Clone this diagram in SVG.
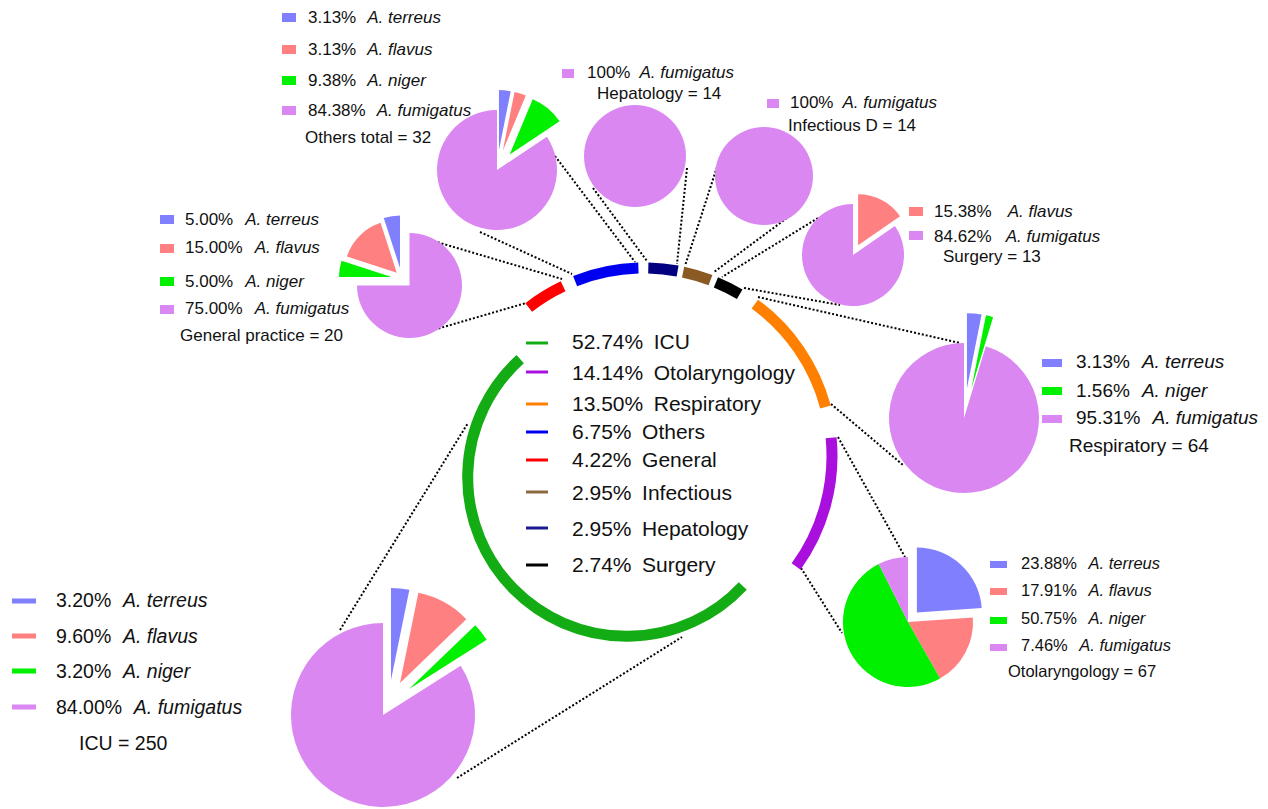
<svg xmlns="http://www.w3.org/2000/svg" width="1268" height="809" viewBox="0 0 1268 809">
<style>
text{font-family:"Liberation Sans",Arial,sans-serif;fill:#111}
.i{font-style:italic}
.f17{font-size:17px}
.f165{font-size:16.5px}
.f19{font-size:19px}
.f195{font-size:19.5px}
.f21{font-size:21px}
.ter{fill:#8080ff}
.fla{fill:#ff8080}
.nig{fill:#00f000}
.fum{fill:#da87f2}
.arc{fill:none;stroke-width:11}
.con{fill:none;stroke:#000;stroke-width:2;stroke-dasharray:2 2}
.lg{stroke-width:3}
</style>
<rect width="1268" height="809" fill="#fff"/>

<g id="connectors">
  <line class="con" x1="430" y1="240" x2="562" y2="279"/>
  <line class="con" x1="423" y1="333" x2="526" y2="303"/>
  <line class="con" x1="480" y1="232" x2="572" y2="274"/>
  <line class="con" x1="555" y1="156" x2="635" y2="262"/>
  <line class="con" x1="593" y1="188" x2="647" y2="261"/>
  <line class="con" x1="687" y1="168" x2="677" y2="264"/>
  <line class="con" x1="717" y1="167" x2="685" y2="266"/>
  <line class="con" x1="787" y1="218" x2="714" y2="272"/>
  <line class="con" x1="818" y1="218" x2="722" y2="277"/>
  <line class="con" x1="744" y1="288" x2="840" y2="305"/>
  <line class="con" x1="758" y1="297" x2="960" y2="343"/>
  <line class="con" x1="831" y1="404" x2="903" y2="465"/>
  <line class="con" x1="838" y1="437" x2="905" y2="557"/>
  <line class="con" x1="801" y1="568" x2="842" y2="633"/>
  <line class="con" x1="340" y1="630" x2="468" y2="423"/>
  <line class="con" x1="457" y1="778" x2="682" y2="637"/>
</g>

<g id="ring">
  <path class="arc" stroke="#ff0000" d="M528.7,307.5 A188,188 0 0 1 563.1,286.3"/>
  <path class="arc" stroke="#0000f0" d="M575.1,281.1 A188,188 0 0 1 638.4,268.1"/>
  <path class="arc" stroke="#000080" d="M648.3,268 A188,188 0 0 1 677.6,271"/>
  <path class="arc" stroke="#8b5a24" d="M683.1,272.1 A188,188 0 0 1 710.5,280.1"/>
  <path class="arc" stroke="#000000" d="M715.9,282.3 A188,188 0 0 1 739.7,294.2"/>
  <path class="arc" stroke="#ff8000" d="M754.8,304.1 A188,188 0 0 1 825.5,407"/>
  <path class="arc" stroke="#aa10dd" d="M831.1,437.7 A188,188 0 0 1 796.1,566.5"/>
  <path class="arc" stroke="#14ac14" d="M742.8,585.9 A159,159 0 1 1 520.2,359.2"/>
</g>

<g id="center-legend" class="f21">
  <line class="lg" x1="526" y1="343" x2="548" y2="343" stroke="#14ac14"/>
  <line class="lg" x1="526" y1="372" x2="548" y2="372" stroke="#aa10dd"/>
  <line class="lg" x1="526" y1="404" x2="548" y2="404" stroke="#ff8000"/>
  <line class="lg" x1="526" y1="432" x2="548" y2="432" stroke="#0000f0"/>
  <line class="lg" x1="526" y1="460" x2="548" y2="460" stroke="#ff0000"/>
  <line class="lg" x1="526" y1="492" x2="548" y2="492" stroke="#8b6a40"/>
  <line class="lg" x1="526" y1="528" x2="548" y2="528" stroke="#1a1a90"/>
  <line class="lg" x1="526" y1="565" x2="548" y2="565" stroke="#000000"/>
  <text x="572" y="349">52.74%<tspan dx="10.5">ICU</tspan></text>
  <text x="572" y="380">14.14%<tspan dx="10.5">Otolaryngology</tspan></text>
  <text x="572" y="411">13.50%<tspan dx="10.5">Respiratory</tspan></text>
  <text x="572" y="439">6.75%<tspan dx="10.5">Others</tspan></text>
  <text x="572" y="467">4.22%<tspan dx="10.5">General</tspan></text>
  <text x="572" y="500">2.95%<tspan dx="10.5">Infectious</tspan></text>
  <text x="572" y="536">2.95%<tspan dx="10.5">Hepatology</tspan></text>
  <text x="572" y="572">2.74%<tspan dx="10.5">Surgery</tspan></text>
</g>

<g id="pie-others">
  <path class="ter" d="M498.96,150.1 L498.96,90.1 A60,60 0 0 1 510.69,91.26 Z"/>
  <path class="fla" d="M502.81,150.86 L514.54,92.02 A60,60 0 0 1 525.81,95.44 Z"/>
  <path class="nig" d="M509.7,154.55 L532.7,99.13 A60,60 0 0 1 559.61,121.26 Z"/>
  <path class="fum" d="M497,170 L546.91,136.71 A60,60 0 1 1 497,110 Z"/>
  <g class="f17">
    <rect class="ter" x="282" y="13" width="14" height="9"/>
    <rect class="fla" x="282" y="45" width="14" height="9"/>
    <rect class="nig" x="282" y="76" width="14" height="9"/>
    <rect class="fum" x="282" y="106" width="14" height="9"/>
    <text x="308" y="23">3.13%<tspan class="i" dx="11">A. terreus</tspan></text>
    <text x="308" y="55">3.13%<tspan class="i" dx="11">A. flavus</tspan></text>
    <text x="308" y="86">9.38%<tspan class="i" dx="11">A. niger</tspan></text>
    <text x="308" y="116">84.38%<tspan class="i" dx="11">A. fumigatus</tspan></text>
    <text x="305" y="143">Others total = 32</text>
  </g>
</g>

<g id="pie-general">
  <path class="ter" d="M400,268 L400,215.5 A52.5,52.5 0 0 0 383.78,218.07 Z"/>
  <path class="fla" d="M396.8,272.8 L380.58,222.87 A52.5,52.5 0 0 0 346.87,256.58 Z"/>
  <path class="nig" d="M391.5,277 L341.57,260.78 A52.5,52.5 0 0 0 339,277 Z"/>
  <path class="fum" d="M409.5,285.5 L409.5,233 A52.5,52.5 0 1 1 357,285.5 Z"/>
  <g class="f17">
    <rect class="ter" x="160" y="215" width="14" height="9"/>
    <rect class="fla" x="160" y="244" width="14" height="9"/>
    <rect class="nig" x="160" y="277" width="14" height="9"/>
    <rect class="fum" x="160" y="305" width="14" height="9"/>
    <text x="185" y="225">5.00%<tspan class="i" dx="12">A. terreus</tspan></text>
    <text x="185" y="253">15.00%<tspan class="i" dx="12">A. flavus</tspan></text>
    <text x="185" y="287">5.00%<tspan class="i" dx="12">A. niger</tspan></text>
    <text x="185" y="314">75.00%<tspan class="i" dx="12">A. fumigatus</tspan></text>
    <text x="180" y="341">General practice = 20</text>
  </g>
</g>

<g id="pie-hepatology">
  <circle class="fum" cx="635" cy="156" r="51"/>
  <g class="f17">
    <rect class="fum" x="562" y="69" width="12" height="9"/>
    <text x="587" y="78">100%<tspan class="i" dx="9">A. fumigatus</tspan></text>
    <text x="597" y="99">Hepatology = 14</text>
  </g>
</g>

<g id="pie-infectious">
  <circle class="fum" cx="764" cy="176" r="49"/>
  <g class="f17">
    <rect class="fum" x="767" y="99" width="12" height="9"/>
    <text x="790" y="108">100%<tspan class="i" dx="9">A. fumigatus</tspan></text>
    <text x="788" y="131">Infectious D = 14</text>
  </g>
</g>

<g id="pie-surgery">
  <path class="fla" d="M858.11,245.26 L858.11,194.26 A51,51 0 0 1 900.07,216.27 Z"/>
  <path class="fum" d="M853,255 L894.96,226.01 A51,51 0 1 1 853,204 Z"/>
  <g class="f17">
    <rect class="fla" x="909" y="207" width="14" height="9"/>
    <rect class="fum" x="909" y="231" width="14" height="9"/>
    <text x="934" y="217">15.38%<tspan class="i" dx="16">A. flavus</tspan></text>
    <text x="934" y="242">84.62%<tspan class="i" dx="14">A. fumigatus</tspan></text>
    <text x="943" y="262">Surgery = 13</text>
  </g>
</g>

<g id="pie-respiratory">
  <path class="ter" d="M966.95,388.14 L966.95,313.14 A75,75 0 0 1 981.61,314.59 Z"/>
  <path class="nig" d="M971.3,388.9 L985.96,315.35 A75,75 0 0 1 993.08,317.13 Z"/>
  <path class="fum" d="M964,418 L985.78,346.23 A75,75 0 1 1 964,343 Z"/>
  <g class="f19">
    <rect class="ter" x="1042" y="359" width="20" height="8"/>
    <rect class="nig" x="1042" y="387" width="20" height="8"/>
    <rect class="fum" x="1042" y="415" width="20" height="8"/>
    <text x="1076" y="368">3.13%<tspan class="i" dx="12">A. terreus</tspan></text>
    <text x="1076" y="397">1.56%<tspan class="i" dx="12">A. niger</tspan></text>
    <text x="1076" y="424">95.31%<tspan class="i" dx="12">A. fumigatus</tspan></text>
    <text x="1069" y="452">Respiratory = 64</text>
  </g>
</g>

<g id="pie-otolaryngology">
  <path class="ter" d="M916.86,612.49 L916.86,547.49 A65,65 0 0 1 981.7,607.92 Z"/>
  <path class="fla" d="M908,622 L972.84,617.43 A65,65 0 0 1 940.06,678.54 Z"/>
  <path class="nig" d="M908,622 L940.06,678.54 A65,65 0 1 1 878.64,564.01 Z"/>
  <path class="fum" d="M908,622 L878.64,564.01 A65,65 0 0 1 908,557 Z"/>
  <g class="f165">
    <rect class="ter" x="990" y="561" width="17" height="7"/>
    <rect class="fla" x="990" y="588" width="17" height="7"/>
    <rect class="nig" x="990" y="617" width="17" height="7"/>
    <rect class="fum" x="990" y="644" width="17" height="7"/>
    <text x="1021" y="569">23.88%<tspan class="i" dx="11.5">A. terreus</tspan></text>
    <text x="1021" y="596">17.91%<tspan class="i" dx="11.5">A. flavus</tspan></text>
    <text x="1021" y="624">50.75%<tspan class="i" dx="11.5">A. niger</tspan></text>
    <text x="1021" y="651">7.46%<tspan class="i" dx="11.5">A. fumigatus</tspan></text>
    <text x="1008" y="677">Otolaryngology = 67</text>
  </g>
</g>

<g id="pie-icu">
  <path class="ter" d="M391,680 L391,588 A92,92 0 0 1 409.37,589.85 Z"/>
  <path class="fla" d="M400,683 L418.37,592.85 A92,92 0 0 1 466.27,619.18 Z"/>
  <path class="nig" d="M409,689 L475.27,625.18 A92,92 0 0 1 486.68,639.71 Z"/>
  <path class="fum" d="M383,715 L460.68,665.71 A92,92 0 1 1 383,623 Z"/>
  <g class="f195">
    <rect class="ter" x="12" y="598.5" width="24" height="5"/>
    <rect class="fla" x="12" y="633.5" width="24" height="5"/>
    <rect class="nig" x="12" y="668.5" width="24" height="5"/>
    <rect class="fum" x="12" y="704.5" width="24" height="5"/>
    <text x="56" y="607">3.20%<tspan class="i" dx="11.7">A. terreus</tspan></text>
    <text x="56" y="643">9.60%<tspan class="i" dx="11.7">A. flavus</tspan></text>
    <text x="56" y="678">3.20%<tspan class="i" dx="11.7">A. niger</tspan></text>
    <text x="56" y="714">84.00%<tspan class="i" dx="11.7">A. fumigatus</tspan></text>
    <text x="79" y="750">ICU = 250</text>
  </g>
</g>
</svg>
